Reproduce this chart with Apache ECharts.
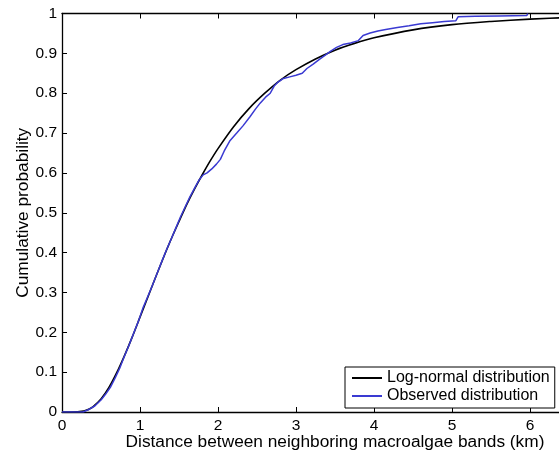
<!DOCTYPE html>
<html>
<head>
<meta charset="utf-8">
<script src="https://cdn.jsdelivr.net/npm/echarts@6/dist/echarts.min.js"></script>
<style>
html,body{margin:0;padding:0;background:#fff;}
#c{width:559px;height:453px;}
</style>
</head>
<body>
<div id="c"></div>
<script>
// Log-normal fitted curve
const logX = [0, 0.1, 0.2, 0.25, 0.3, 0.35, 0.4, 0.5, 0.6, 0.7, 0.8, 0.9, 1.0, 1.1, 1.2, 1.3, 1.4, 1.5, 1.6, 1.7, 1.8, 1.9, 2.0, 2.2, 2.4, 2.6, 2.8, 3.0, 3.25, 3.5, 3.75, 4.0, 4.5, 5.0, 5.5, 6.0, 6.5, 7.0];
const logY = [0, 0, 0.0004, 0.0015, 0.0037, 0.0077, 0.0137, 0.0327, 0.061, 0.098, 0.141, 0.188, 0.238, 0.288, 0.338, 0.387, 0.434, 0.478, 0.521, 0.560, 0.596, 0.630, 0.661, 0.716, 0.762, 0.800, 0.833, 0.859, 0.886, 0.908, 0.925, 0.939, 0.959, 0.972, 0.980, 0.986, 0.990, 0.993];

const obsX = [0, 0.27, 0.35, 0.42, 0.50, 0.56, 0.62, 0.68, 0.74, 0.80, 0.86, 0.92, 0.98, 1.04, 1.10, 1.16, 1.22, 1.28, 1.34, 1.40, 1.46, 1.52, 1.58, 1.64, 1.70, 1.76, 1.81, 1.86, 1.92, 1.98, 2.03, 2.08, 2.15, 2.24, 2.32, 2.41, 2.48, 2.54, 2.61, 2.67, 2.72, 2.77, 2.84, 2.92, 3.00, 3.08, 3.14, 3.22, 3.30, 3.38, 3.44, 3.52, 3.60, 3.70, 3.80, 3.86, 3.95, 4.05, 4.15, 4.30, 4.45, 4.60, 4.75, 4.90, 5.05, 5.08, 5.30, 5.60, 5.96, 5.97];
const obsY = [0, 0.000, 0.007, 0.015, 0.030, 0.045, 0.062, 0.085, 0.110, 0.140, 0.168, 0.198, 0.228, 0.262, 0.290, 0.318, 0.348, 0.378, 0.407, 0.434, 0.462, 0.490, 0.515, 0.540, 0.562, 0.583, 0.595, 0.600, 0.610, 0.622, 0.634, 0.655, 0.680, 0.700, 0.718, 0.741, 0.760, 0.775, 0.790, 0.800, 0.818, 0.828, 0.837, 0.841, 0.845, 0.850, 0.862, 0.873, 0.885, 0.896, 0.905, 0.915, 0.922, 0.926, 0.932, 0.945, 0.951, 0.956, 0.960, 0.965, 0.969, 0.974, 0.977, 0.980, 0.982, 0.992, 0.993, 0.994, 0.995, 1.0];

const xTicks = [0, 1, 2, 3, 4, 5, 6, 7];
const yTicks = [0, 0.1, 0.2, 0.3, 0.4, 0.5, 0.6, 0.7, 0.8, 0.9, 1];

const seriesNames = ['Log-normal distribution', 'Observed distribution'];
const xName = 'Distance between neighboring macroalgae bands (km)';
const yName = 'Cumulative probability';

const FONT = 'Liberation Sans, Arial, Helvetica, sans-serif';

const chart = echarts.init(document.getElementById('c'), null, {renderer: 'canvas'});
const zip = (xs, ys) => xs.map((x, i) => [x, ys[i]]);

chart.setOption({
  animation: false,
  backgroundColor: '#fff',
  // the plotted area extends past the right edge of the picture (axis runs to 7)
  grid: {left: 62, right: -49, top: 13.5, bottom: 41, outerBoundsMode: 'none', containLabel: false},
  legend: {
    orient: 'vertical',
    left: 345, top: 367,
    data: seriesNames,
    icon: 'rect',
    backgroundColor: '#fff',
    borderColor: '#000', borderWidth: 1,
    padding: [3, 5, 4, 7],
    itemGap: 2,
    itemWidth: 30, itemHeight: 2,
    textStyle: {fontFamily: FONT, fontSize: 16, color: '#000'}
  },
  xAxis: [{
    type: 'value', min: 0, max: 7, interval: 1, position: 'bottom',
    name: xName, nameLocation: 'middle', nameGap: 22, nameMoveOverlap: false,
    nameTextStyle: {fontFamily: FONT, fontSize: 17.3, color: '#000'},
    axisLine: {show: true, lineStyle: {color: '#000', width: 1.3}},
    axisTick: {show: true, inside: true, length: 5, lineStyle: {color: '#000'}},
    axisLabel: {fontFamily: FONT, fontSize: 15.5, color: '#000', margin: 6},
    splitLine: {show: false}
  }, {
    type: 'value', min: 0, max: 7, interval: 1, position: 'top',
    axisLine: {show: true, onZero: false, lineStyle: {color: '#000', width: 1.3}},
    axisTick: {show: true, inside: true, length: 5, lineStyle: {color: '#000'}},
    axisLabel: {show: false},
    splitLine: {show: false}
  }],
  yAxis: {
    type: 'value', min: 0, max: 1, interval: 0.1,
    name: yName, nameLocation: 'middle', nameGap: 30, nameMoveOverlap: false,
    nameTextStyle: {fontFamily: FONT, fontSize: 17.3, color: '#000'},
    axisLine: {show: true, lineStyle: {color: '#000', width: 1.3}},
    axisTick: {show: true, inside: true, length: 5, lineStyle: {color: '#000'}},
    axisLabel: {fontFamily: FONT, fontSize: 15.5, color: '#000', margin: 5,
      formatter: v => {
        const r = Math.round(v * 10) / 10;
        return yTicks.indexOf(r) >= 0 ? String(r) : '';
      }},
    splitLine: {show: false}
  },
  series: [{
    name: seriesNames[0], type: 'line', xAxisIndex: 0,
    data: zip(logX, logY), symbol: 'none', smooth: 0.3,
    lineStyle: {color: '#000', width: 1.6},
    itemStyle: {color: '#000'}, z: 2
  }, {
    name: seriesNames[1], type: 'line', xAxisIndex: 0,
    data: zip(obsX, obsY), symbol: 'none',
    lineStyle: {color: '#3a3ad2', width: 1.5},
    itemStyle: {color: '#3a3ad2'}, z: 3
  }]
});
</script>
</body>
</html>
